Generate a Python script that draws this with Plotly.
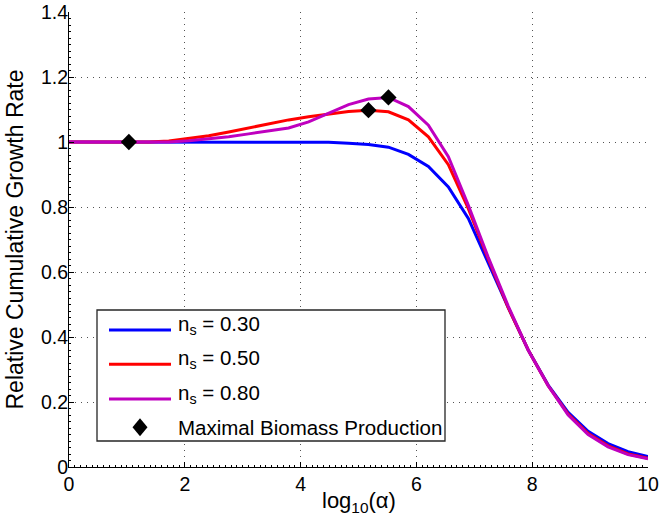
import plotly.graph_objects as go

# log10(alpha) sample positions
x_vals = [0.000, 0.345, 0.690, 1.034, 1.379, 1.724, 2.069, 2.414, 2.759, 3.103,
          3.448, 3.793, 4.138, 4.483, 4.828, 5.172, 5.517, 5.862, 6.207, 6.552,
          6.897, 7.241, 7.586, 7.931, 8.276, 8.621, 8.966, 9.310, 9.655, 10.000]

ns030 = [1.000, 1.000, 1.000, 1.000, 1.000, 1.000, 1.000, 1.000, 1.000, 1.000,
         1.000, 1.000, 1.000, 0.999, 0.996, 0.992, 0.984, 0.962, 0.925, 0.862,
         0.765, 0.625, 0.490, 0.360, 0.252, 0.168, 0.110, 0.072, 0.047, 0.032]

ns050 = [1.000, 1.000, 1.000, 1.000, 1.000, 1.003, 1.010, 1.019, 1.031, 1.044,
         1.057, 1.068, 1.078, 1.087, 1.094, 1.098, 1.093, 1.068, 1.016, 0.930,
         0.795, 0.640, 0.490, 0.360, 0.250, 0.163, 0.103, 0.065, 0.040, 0.027]

ns080 = [1.000, 1.000, 1.000, 1.000, 1.000, 1.000, 1.004, 1.009, 1.016, 1.025,
         1.034, 1.043, 1.062, 1.088, 1.115, 1.132, 1.137, 1.109, 1.052, 0.955,
         0.805, 0.645, 0.495, 0.360, 0.250, 0.160, 0.100, 0.062, 0.038, 0.025]

max_x = [1.034, 5.172, 5.517]
max_y = [1.000, 1.098, 1.137]

series_names = ["n<sub>s</sub> = 0.30", "n<sub>s</sub> = 0.50", "n<sub>s</sub> = 0.80"]
series_colors = ["#0000FF", "#FF0000", "#BF00BF"]
marker_label = "Maximal Biomass Production"
x_title = "log<sub>10</sub>(α)"
y_title = "Relative Cumulative Growth Rate"

x_ticks = [0, 2, 4, 6, 8, 10]
y_ticks = [0, 0.2, 0.4, 0.6, 0.8, 1, 1.2, 1.4]

FONT = "Liberation Sans, Arial, Helvetica, sans-serif"

fig = go.Figure()
for ys, name, col in zip([ns030, ns050, ns080], series_names, series_colors):
    fig.add_trace(go.Scatter(x=x_vals, y=ys, mode="lines", name=name,
                             line=dict(color=col, width=3), showlegend=False))
fig.add_trace(go.Scatter(x=max_x, y=max_y, mode="markers", name=marker_label,
                         marker=dict(symbol="diamond", size=12.5, color="black",
                                     line=dict(width=0)),
                         showlegend=False))

# plot-area geometry (px) used for the hand-drawn legend
W, H = 659, 522
L, R, T, B = 69, 11, 12, 55
pw, ph = W - L - R, H - T - B

def px(xp):
    return (xp - L) / pw

def py(yp):
    return (H - B - yp) / ph

shapes = []
annotations = []
# legend box
shapes.append(dict(type="rect", xref="paper", yref="paper",
                   x0=px(97), x1=px(445), y0=py(441), y1=py(310),
                   line=dict(color="#262626", width=1.3), fillcolor="white", layer="above"))
line_rows = [330, 364.3, 399]
for yl, name, col in zip(line_rows, series_names, series_colors):
    shapes.append(dict(type="line", xref="paper", yref="paper",
                       x0=px(109), x1=px(171), y0=py(yl), y1=py(yl),
                       line=dict(color=col, width=3), layer="above"))
    annotations.append(dict(xref="paper", yref="paper", x=px(176), y=py(yl - 5),
                            xanchor="left", yanchor="middle", showarrow=False,
                            text=name, font=dict(family=FONT, size=20.5, color="black")))
# diamond legend symbol
cx, cy, hw, hh = 140, 427.3, 7.5, 9
shapes.append(dict(type="path", xref="paper", yref="paper",
                   path=f"M {px(cx)},{py(cy-hh)} L {px(cx+hw)},{py(cy)} L {px(cx)},{py(cy+hh)} L {px(cx-hw)},{py(cy)} Z",
                   fillcolor="black", line=dict(width=0), layer="above"))
annotations.append(dict(xref="paper", yref="paper", x=px(176), y=py(427),
                        xanchor="left", yanchor="middle", showarrow=False,
                        text=marker_label, font=dict(family=FONT, size=20.5, color="black")))
# x-axis title
annotations.append(dict(xref="paper", yref="paper", x=0.5, y=py(502),
                        xanchor="center", yanchor="middle", showarrow=False,
                        text=x_title, font=dict(family=FONT, size=22, color="black")))

grid = dict(showgrid=True, gridcolor="rgba(40,40,40,0.8)", griddash="1px,5px", gridwidth=1)

fig.update_layout(
    width=W, height=H,
    margin=dict(l=L, r=R, t=T, b=B, autoexpand=False),
    paper_bgcolor="white", plot_bgcolor="white",
    font=dict(family=FONT, size=19.5, color="black"),
    shapes=shapes, annotations=annotations,
    showlegend=False,
    xaxis=dict(range=[0, 10], tickvals=x_ticks, ticks="inside", ticklen=5,
               tickcolor="black", showline=True, linecolor="black", linewidth=1,
               zeroline=False, automargin=False,
               minor=dict(dtick=0.1, ticks="inside", ticklen=2, tickcolor="black", showgrid=False),
               **grid),
    yaxis=dict(range=[0, 1.4], tickvals=y_ticks, ticks="inside", ticklen=5,
               tickcolor="black", showline=True, linecolor="black", linewidth=1,
               zeroline=False, automargin=False, ticklabelstandoff=-4,
               minor=dict(dtick=0.02, ticks="inside", ticklen=2, tickcolor="black", showgrid=False),
               title=dict(text=y_title, font=dict(size=23), standoff=10),
               **grid),
)

fig.write_html("out.html", config={"displayModeBar": False},
               post_script="document.body.style.margin='0';document.body.style.overflow='hidden';")
